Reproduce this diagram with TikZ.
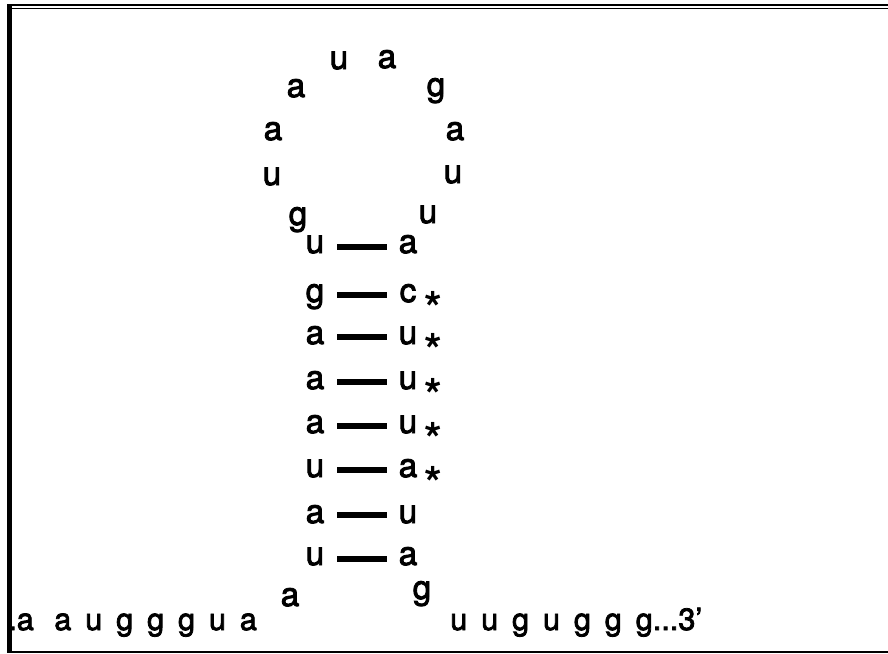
\documentclass[tikz,border=0pt]{standalone}
\usepackage{fontspec}
\setmainfont{TeX Gyre Heros}[UprightFeatures={FakeBold=2.6}]
\usepackage{tikz}
\usetikzlibrary{calc}
\newcommand\spaced{\spaceskip=10.4pt\relax}

\begin{document}
\begin{tikzpicture}[x=0.75pt,y=-0.75pt,
  nuc/.style={font=\fontsize{25}{25}\selectfont, inner sep=0pt, anchor=base},
  seq/.style={font=\fontsize{23}{23}\selectfont, inner sep=0pt, anchor=base west},
  bond/.style={line width=3.8pt},
  cons/.style={font=\fontsize{34}{34}\selectfont\bfseries, inner sep=0pt}]

  \useasboundingbox (0,0) rectangle (888,653);
  \def\lx{315}\def\rx{408}

  % moldura
  \draw[line width=1.9pt] (7,5) -- (888,5);
  \draw[line width=1.1pt] (7,8.3) -- (888,8.3);
  \draw[line width=3.8pt] (9.5,4) -- (9.5,653);
  \draw[line width=1.5pt] (7,652) -- (888,652);

  % alça
  \node[nuc] (h1)  at (339,69)  {u};
  \node[nuc] (h2)  at (387,68)  {a};
  \node[nuc] (h3)  at (296,97)  {a};
  \node[nuc] (h4)  at (436,96)  {g};
  \node[nuc] (h5)  at (273,140) {a};
  \node[nuc] (h6)  at (455,140) {a};
  \node[nuc] (h7)  at (272,185) {u};
  \node[nuc] (h8)  at (453,183) {u};
  \node[nuc] (h9)  at (298,225) {g};
  \node[nuc] (h10) at (428,223) {u};

  % haste (lado 5')
  \node[nuc] (l1) at (\lx,253) {u};
  \node[nuc] (l2) at (\lx,302) {g};
  \node[nuc] (l3) at (\lx,344) {a};
  \node[nuc] (l4) at (\lx,389) {a};
  \node[nuc] (l5) at (\lx,433) {a};
  \node[nuc] (l6) at (\lx,477) {u};
  \node[nuc] (l7) at (\lx,523) {a};
  \node[nuc] (l8) at (\lx,565) {u};

  % haste (lado 3')
  \node[nuc] (r1) at (\rx,253) {a};
  \node[nuc] (r2) at (\rx,302) {c};
  \node[nuc] (r3) at (\rx,344) {u};
  \node[nuc] (r4) at (\rx,389) {u};
  \node[nuc] (r5) at (\rx,433) {u};
  \node[nuc] (r6) at (\rx,477) {a};
  \node[nuc] (r7) at (\rx,523) {u};
  \node[nuc] (r8) at (\rx,565) {a};

  % pareamentos
  \draw[bond] ([shift={(22,-6)}]l1.base) -- ([shift={(-21,-6)}]r1.base);
  \draw[bond] ([shift={(22,-7)}]l2.base) -- ([shift={(-21,-7)}]r2.base);
  \draw[bond] ([shift={(22,-7)}]l3.base) -- ([shift={(-21,-7)}]r3.base);
  \draw[bond] ([shift={(22,-7)}]l4.base) -- ([shift={(-21,-7)}]r4.base);
  \draw[bond] ([shift={(22,-7)}]l5.base) -- ([shift={(-21,-7)}]r5.base);
  \draw[bond] ([shift={(22,-7)}]l6.base) -- ([shift={(-21,-7)}]r6.base);
  \draw[bond] ([shift={(22,-8)}]l7.base) -- ([shift={(-21,-8)}]r7.base);
  \draw[bond] ([shift={(22,-6)}]l8.base) -- ([shift={(-21,-6)}]r8.base);

  % asteriscos
  \node[cons] (s2) at (433,308) {*};
  \node[cons] (s3) at (433,350) {*};
  \node[cons] (s4) at (433,395) {*};
  \node[cons] (s5) at (433,439) {*};
  \node[cons] (s6) at (433,483) {*};

  % base e caudas
  \node[nuc] (b1) at (290,606) {a};
  \node[nuc] (b2) at (422,599) {g};
  \node[seq] (t5) at (8,630)   {\spaced .a\hspace{5pt} a u g g g u a};
  \node[seq] (t3) at (450,630) {\spaced u u g u g g g...3'};

\end{tikzpicture}
\end{document}
